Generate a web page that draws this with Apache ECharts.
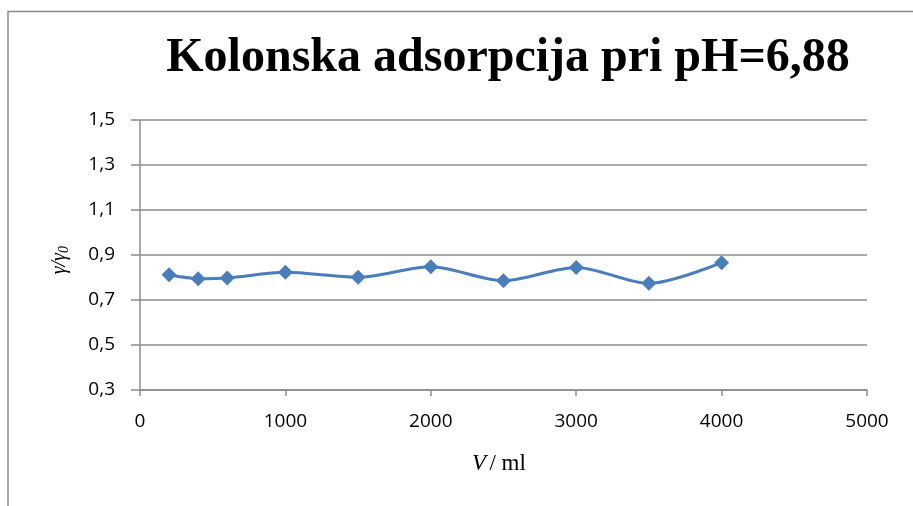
<!DOCTYPE html>
<html>
<head>
<meta charset="utf-8">
<script src="https://cdn.jsdelivr.net/npm/echarts@6/dist/echarts.min.js"></script>
<style>
  html, body { margin: 0; padding: 0; background: #fff; }
  #chart { width: 913px; height: 506px; }
</style>
</head>
<body>
<div id="chart"></div>
<script>
var volumes = [200, 400, 600, 1000, 1500, 2000, 2500, 3000, 3500, 4000];
var ratios = [0.812, 0.795, 0.798, 0.823, 0.801, 0.848, 0.786, 0.845, 0.774, 0.866];
var titleText = "Kolonska adsorpcija pri pH=6,88";

var points = [];
for (var i = 0; i < volumes.length; i++) {
    points.push([volumes[i], ratios[i]]);
}

var gridColor = "#8c8c8c";
var chart = echarts.init(document.getElementById("chart"), null, { renderer: "canvas" });

chart.setOption({
    animation: false,
    backgroundColor: "#fff",
    title: {
        text: titleText,
        left: 503, top: 30, textAlign: "center",
        textStyle: { fontFamily: "Liberation Serif", fontWeight: "bold", fontSize: 48, color: "#000" }
    },
    graphic: [{
        type: "polyline",
        shape: { points: [[8, 506], [8, 11.5], [913, 11.5]] },
        style: { stroke: "#8c8c8c", lineWidth: 1.5, fill: null }
    }, {
        type: "text", left: 50, top: 246, rotation: Math.PI / 2,
        style: {
            text: "{i|γ/γ}{s|0}",
            rich: {
                i: { fontFamily: "Liberation Serif", fontStyle: "italic", fontSize: 20, fill: "#000" },
                s: { fontFamily: "Liberation Serif", fontStyle: "italic", fontSize: 14, fill: "#000", verticalAlign: "bottom", padding: [8, 0, 0, 0] }
            }
        }
    }, {
        type: "text", left: 472, top: 452,
        style: {
            text: "{i|V} {n|/ ml}",
            rich: {
                i: { fontFamily: "Liberation Serif", fontStyle: "italic", fontSize: 23, fill: "#000" },
                n: { fontFamily: "Liberation Serif", fontSize: 23, fill: "#000" }
            }
        }
    }],
    grid: { left: 140, right: 46, top: 120, bottom: 116 },
    xAxis: {
        type: "value", min: 0, max: 5000, interval: 1000,
        axisLine: { show: true, lineStyle: { color: gridColor, width: 1.5 } },
        axisTick: { show: true, inside: false, length: 6, lineStyle: { color: gridColor, width: 1.5 } },
        splitLine: { show: false },
        axisLabel: {
            margin: 22, fontFamily: "Open Sans", fontSize: 19, color: "#000",
            formatter: function (v) { return String(v); }
        }
    },
    yAxis: {
        type: "value", min: 0.3, max: 1.5, interval: 0.2,
        axisLine: { show: true, lineStyle: { color: gridColor, width: 1.5 } },
        axisTick: { show: true, inside: false, length: 9, lineStyle: { color: gridColor, width: 1.5 } },
        splitLine: { show: true, lineStyle: { color: gridColor, width: 1.5 } },
        axisLabel: {
            margin: 25, fontFamily: "Open Sans", fontSize: 19, color: "#000",
            formatter: function (v) { return v.toFixed(1).replace(".", ","); }
        }
    },
    series: [{
        type: "line",
        data: points,
        smooth: 0.3,
        symbol: "diamond",
        symbolSize: 15,
        itemStyle: { color: "#4a7ebb" },
        lineStyle: { color: "#4a7ebb", width: 3 }
    }]
});
</script>
</body>
</html>
